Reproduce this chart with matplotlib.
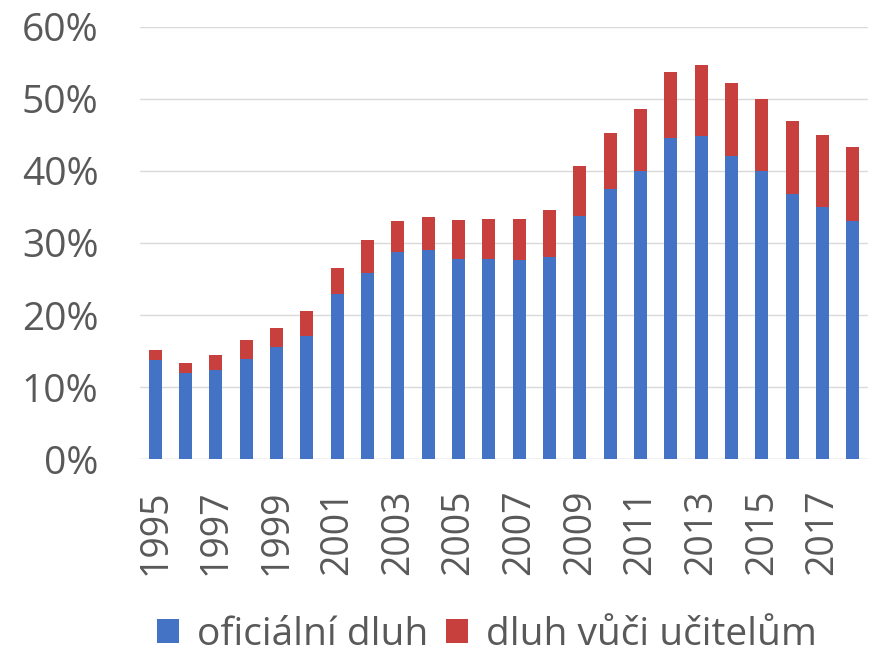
import numpy as np
import matplotlib.pyplot as plt
from matplotlib.ticker import PercentFormatter

years = list(range(1995, 2019))
official = [13.7, 11.9, 12.3, 13.9, 15.5, 17.1, 22.9, 25.9, 28.7, 29.0, 27.8, 27.8,
            27.6, 28.1, 33.8, 37.5, 40.0, 44.5, 44.9, 42.1, 40.0, 36.8, 35.0, 33.1]
teachers_total = [15.1, 13.3, 14.4, 16.6, 18.2, 20.5, 26.5, 30.4, 33.1, 33.6, 33.2, 33.3,
                  33.3, 34.6, 40.7, 45.3, 48.6, 53.7, 54.7, 52.2, 50.0, 46.9, 45.0, 43.3]
teachers = [t - o for t, o in zip(teachers_total, official)]

blue = '#4472C4'
red = '#C8403E'
text_col = '#595959'

plt.rcParams['font.family'] = ['Open Sans', 'DejaVu Sans']

fig = plt.figure(figsize=(8.71, 6.54), dpi=100)
ax = fig.add_axes([140 / 871, 0.298, 728 / 871, 0.661])

x = np.arange(len(years))
off = np.array(official) / 100
tea = np.array(teachers) / 100
ax.bar(x, off, width=0.43, color=blue, label='oficiální dluh', zorder=2)
ax.bar(x, tea, width=0.43, bottom=off, color=red, label='dluh vůči učitelům', zorder=2)

ax.set_xlim(-0.5, len(years) - 0.5)
ax.set_ylim(0, 0.6)
ax.set_yticks(np.arange(0, 0.61, 0.1))
ax.yaxis.set_major_formatter(PercentFormatter(1.0, decimals=0))
ax.set_xticks(x[::2])
ax.set_xticklabels([str(y) for y in years[::2]], rotation=90)
ax.tick_params(axis='both', length=0, labelcolor=text_col)
ax.tick_params(axis='y', labelsize=28, pad=30)
ax.tick_params(axis='x', labelsize=27, pad=22)
ax.grid(axis='y', color='#d9d9d9', linewidth=1, zorder=0)
for s in ax.spines.values():
    s.set_visible(False)
ax.axhline(0, color='#d9d9d9', linewidth=1, zorder=1)

fig.legend(loc='center', bbox_to_anchor=(0.559, 0.029), ncol=2, frameon=False,
           fontsize=28, labelcolor=text_col, handlelength=0.57, handleheight=0.57,
           handletextpad=0.46, columnspacing=0.46, borderpad=0)

fig.savefig('out.png', dpi=100)
